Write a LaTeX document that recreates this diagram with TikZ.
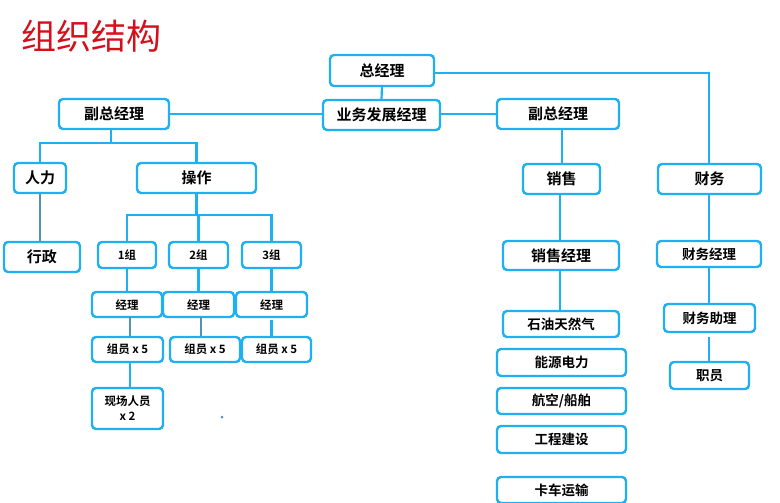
\documentclass[tikz,border=0pt]{standalone}
\usepackage{fontspec}
\newfontfamily\cjk{Noto Sans CJK SC}[BoldFont={Noto Sans CJK SC Bold}]
\definecolor{boxblue}{RGB}{30,176,240}
\definecolor{linegray}{RGB}{80,150,180}
\definecolor{titlered}{RGB}{212,16,26}
\tikzset{
  orgbox/.style={draw=boxblue, line width=2.4pt, fill=white, rounded corners=4pt,
    inner sep=0pt, align=center, font=\cjk\bfseries\fontsize{15}{17}\selectfont},
  smallbox/.style={orgbox, font=\cjk\bfseries\fontsize{11.5}{14}\selectfont},
  midbox/.style={orgbox, font=\cjk\bfseries\fontsize{13.5}{16}\selectfont},
  conn/.style={draw=boxblue, line width=2.2pt},
  connb/.style={draw=linegray, line width=2.2pt},
}
\begin{document}
\begin{tikzpicture}[x=1pt,y=-1pt]
\useasboundingbox (0,0) rectangle (780,503);
\node[anchor=west, inner sep=0pt, text=titlered, font=\cjk\fontsize{35}{38}\selectfont] (title) at (21,36) {组织结构};
% boxes
\node[orgbox, minimum width=104pt, minimum height=31pt] (gm) at (382,70.5) {总经理};
\node[orgbox, minimum width=117pt, minimum height=30pt] (bd) at (381.5,115) {业务发展经理};
\node[orgbox, minimum width=110pt, minimum height=30pt] (vpL) at (114,114) {副总经理};
\node[orgbox, minimum width=122pt, minimum height=30pt] (vpR) at (558,114) {副总经理};
\node[orgbox, minimum width=52pt, minimum height=30pt] (hr) at (40,178) {人力};
\node[orgbox, minimum width=119pt, minimum height=30pt] (op) at (196.5,178) {操作};
\node[orgbox, minimum width=76pt, minimum height=30pt] (adm) at (42,257) {行政};
\node[smallbox, minimum width=58pt, minimum height=26pt] (g1) at (127,255) {1组};
\node[smallbox, minimum width=59pt, minimum height=26pt] (g2) at (198.5,255) {2组};
\node[smallbox, minimum width=59pt, minimum height=26pt] (g3) at (271.5,255) {3组};
\node[smallbox, minimum width=70pt, minimum height=25pt] (m1) at (127,304.5) {经理};
\node[smallbox, minimum width=71pt, minimum height=25pt] (m2) at (198.5,304.5) {经理};
\node[smallbox, minimum width=71pt, minimum height=25pt] (m3) at (271.5,304.5) {经理};
\node[smallbox, minimum width=71pt, minimum height=25pt] (t1) at (127.5,349.5) {组员 x 5};
\node[smallbox, minimum width=70pt, minimum height=25pt] (t2) at (205,349.5) {组员 x 5};
\node[smallbox, minimum width=69pt, minimum height=25pt] (t3) at (276.5,349.5) {组员 x 5};
\node[smallbox, minimum width=71pt, minimum height=41pt, font=\cjk\bfseries\fontsize{11.5}{15}\selectfont] (fs) at (127.5,408.5) {现场人员\\x 2};
\node[orgbox, minimum width=77pt, minimum height=30pt] (sales) at (561.5,179) {销售};
\node[orgbox, minimum width=103pt, minimum height=30pt] (fin) at (709.5,179) {财务};
\node[orgbox, minimum width=116pt, minimum height=29pt] (sm) at (561,255.5) {销售经理};
\node[midbox, minimum width=116pt, minimum height=26pt] (oil) at (561,324) {石油天然气};
\node[midbox, minimum width=129pt, minimum height=27pt] (en) at (561.5,362.5) {能源电力};
\node[midbox, minimum width=129pt, minimum height=26pt] (av) at (561.5,401) {航空/船舶};
\node[midbox, minimum width=129pt, minimum height=27pt] (eng) at (561.5,439.5) {工程建设};
\node[midbox, minimum width=129pt, minimum height=26pt] (truck) at (561.5,490) {卡车运输};
\node[midbox, minimum width=104pt, minimum height=26pt] (fm) at (709,254) {财务经理};
\node[midbox, minimum width=91pt, minimum height=28pt] (fa) at (709.5,318) {财务助理};
\node[midbox, minimum width=79pt, minimum height=27pt] (staff) at (709.5,375.5) {职员};
% junctions
\coordinate (jL) at (111,143);
\coordinate (jO) at (196.5,215);
\coordinate (jF) at (709,73);
\coordinate (fgap) at (709,337);
% connectors
\path[conn] (gm.south) -- (bd.north);
\path[conn] (vpL.east) -- (vpL.east -| bd.west);
\path[conn] (vpR.west) -- (vpR.west -| bd.east);
\path[conn] (gm.east |- jF) -- (jF) -- (fin.north -| jF);
\path[conn] (vpL.south -| jL) -- (jL);
\path[conn] (hr.north) |- (jL) -| (op.north);
\path[connb] (hr.south) -- (hr.south |- adm.north);
\path[conn] (op.south) -- (jO);
\path[conn] (g1.north) |- (jO) -| (g3.north);
\path[conn] (g2.north) -- (g2.north |- jO);
\path[conn] (g1.south) -- (m1.north);
\path[conn] (g2.south) -- (m2.north);
\path[conn] (g3.south) -- (m3.north);
\path[connb] (130,317) coordinate (a1) -- (a1 |- t1.north);
\path[connb] (201,317) coordinate (a2) -- (a2 |- t2.north);
\path[conn] (271.5,320) coordinate (a3) -- (a3 |- t3.north);
\path[conn] (t1.south -| 130,0) -- (fs.north -| 130,0);
\path[conn] (vpR.south -| 562,0) -- (sales.north -| 562,0);
\path[conn] (sales.south -| 560,0) -- (sm.north -| 560,0);
\path[conn] (sm.south -| 560,0) -- (oil.north -| 560,0);
\path[conn] (fin.south -| 709,0) -- (fm.north -| 709,0);
\path[conn] (fm.south -| 709,0) -- (fa.north -| 709,0);
\path[conn] (fgap) -- (staff.north -| fgap);
\fill[linegray] (222,417) circle (1.5pt);
\end{tikzpicture}
\end{document}
